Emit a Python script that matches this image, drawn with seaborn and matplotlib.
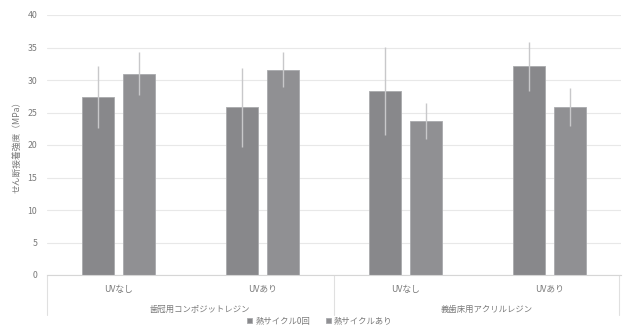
import matplotlib
matplotlib.use("Agg")
import matplotlib.pyplot as plt
from matplotlib.lines import Line2D
import matplotlib.transforms as mtransforms
import pandas as pd
import seaborn as sns

# Shear bond strength by resin type, UV treatment and thermal cycling
materials = ["歯冠用コンポジットレジン", "義歯床用アクリルレジン"]
conditions = ["UVなし", "UVあり", "UVなし", "UVあり"]
cycles = ["熱サイクル0回", "熱サイクルあり"]
mean_cycle0 = [27.4, 25.8, 28.3, 32.1]
mean_cycled = [31.0, 31.6, 23.7, 25.9]
sd_cycle0 = [4.8, 6.1, 6.8, 3.8]
sd_cycled = [3.3, 2.7, 2.7, 2.9]
y_label = "せん断接着強度（MPa）"

groups = [materials[0], materials[0], materials[1], materials[1]]
keys = [g + "/" + c for g, c in zip(groups, conditions)]
df = pd.DataFrame({
    "key": keys * 2,
    "cycle": [cycles[0]] * 4 + [cycles[1]] * 4,
    "value": mean_cycle0 + mean_cycled,
})

sns.set_theme(style="white")
plt.rcParams["font.family"] = ["Noto Sans CJK JP", "DejaVu Sans"]

text_color = "#7a7a7a"
fig = plt.figure(figsize=(6.23, 3.25), dpi=100)
ax = fig.add_axes([47 / 623, 50 / 325, 574 / 623, 260 / 325])

sns.barplot(data=df, x="key", y="value", hue="cycle", order=keys,
            hue_order=cycles, palette=["#87888c", "#8f9094"],
            width=0.575, gap=0.228, errorbar=None, ax=ax,
            edgecolor="#a9aaad", linewidth=0.6, zorder=2)

# error bars (± SD)
for container, sds in zip(ax.containers, [sd_cycle0, sd_cycled]):
    xs = [b.get_x() + b.get_width() / 2 for b in container]
    hs = [b.get_height() for b in container]
    ax.errorbar(xs, hs, yerr=sds, fmt="none", ecolor="#c8c8ca",
                elinewidth=1.0, capsize=0, zorder=3)

ax.set_ylim(0, 40)
ax.set_xlim(-0.5, 3.5)
ax.set_yticks(range(0, 41, 5))
ax.yaxis.grid(True, color="#e8e8e8", linewidth=0.8, zorder=0)
ax.set_axisbelow(True)
for side in ["left", "right", "top"]:
    ax.spines[side].set_visible(False)
ax.spines["bottom"].set_color("#d6d6d6")
ax.spines["bottom"].set_linewidth(0.8)

ax.set_xticks(range(4))
ax.set_xticklabels(conditions)
ax.tick_params(axis="x", length=0, pad=7, labelsize=6.3, labelcolor=text_color)
ax.tick_params(axis="y", length=0, pad=7, labelsize=6.3, labelcolor=text_color)
ax.set_xlabel("")
ax.set_ylabel(y_label, fontsize=6.3, color=text_color, labelpad=4)

# outer category labels and separators
trans = mtransforms.blended_transform_factory(ax.transData, ax.transAxes)
for i, m in enumerate(materials):
    ax.text(2 * i + 0.5 + 0.065, -0.131, m, transform=trans, ha="center",
            va="center", fontsize=6.0, color=text_color)
for xa in [0.0, 0.5, 0.997]:
    ax.add_line(Line2D([xa, xa], [0, -0.154], transform=ax.transAxes,
                       color="#e0e0e0", linewidth=0.8, clip_on=False))

sns.move_legend(ax, "center", bbox_to_anchor=((320 - 47) / 574, -0.177),
                ncol=2, frameon=False, title=None, fontsize=6.0,
                handlelength=0.6, handleheight=0.6, handletextpad=0.4,
                columnspacing=1.8, labelcolor=text_color)

fig.savefig("out.png", dpi=100)
